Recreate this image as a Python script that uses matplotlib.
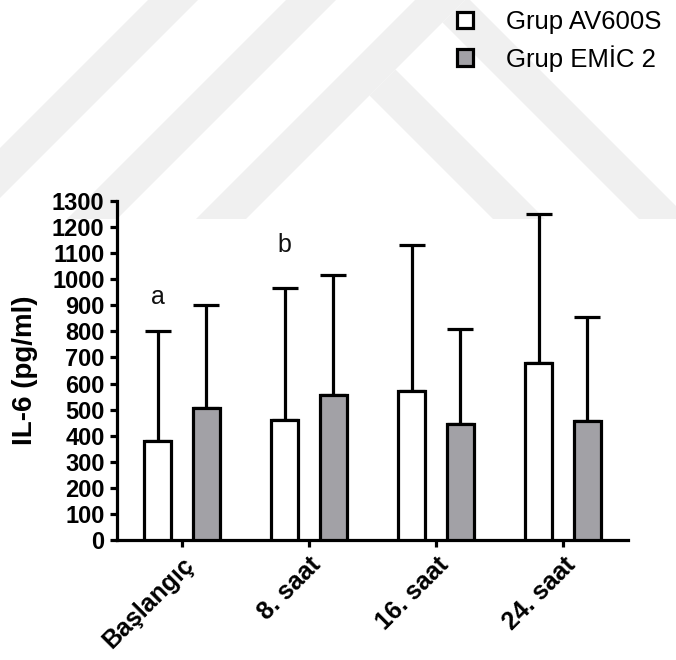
import matplotlib
matplotlib.use("Agg")
import matplotlib.pyplot as plt
import numpy as np
from matplotlib.patches import Patch, Polygon

plt.rcParams['font.family'] = ['Liberation Sans', 'DejaVu Sans']

# ---- data -------------------------------------------------------------
timepoints = ["Başlangıç", "8. saat", "16. saat", "24. saat"]
av600s_mean = [380, 460, 570, 680]
av600s_sd = [420, 505, 562, 570]
emic2_mean = [505, 555, 445, 455]
emic2_sd = [395, 462, 365, 402]
group_names = ["Grup AV600S", "Grup EMİC 2"]
sig_letters = ["a", "b"]
sig_heights = [930, 1130]
yticks = list(range(0, 1301, 100))

# ---- styling ----------------------------------------------------------
W, H = 676, 660
fig = plt.figure(figsize=(W / 100, H / 100), dpi=100)
fig.patch.set_facecolor("white")

# faint diagonal background pattern (figure pixel coordinates, y downwards)
def px(pts):
    return [(x / W, 1 - y / H) for x, y in pts]

band_col = "#f0f0f0"
cut = 219
bands = []
for c1, c2 in [(148, 198), (286, 336), (415, 465)]:
    bands.append([(c1, 0), (c2, 0), (c2 - cut, cut), (c1 - cut, cut)])
edge = 465
for d1, d2 in [(274, 326), (420, 470)]:
    bands.append([((edge + d1) / 2, (edge - d1) / 2), ((edge + d2) / 2, (edge - d2) / 2),
                  (d2 + cut, cut), (d1 + cut, cut)])
for pts in bands:
    fig.patches.append(Polygon(px(pts), closed=True, transform=fig.transFigure,
                               facecolor=band_col, edgecolor="none", zorder=-10))

ax = fig.add_axes([117 / W, 1 - 540 / H, (628 - 117) / W, (540 - 201) / H])
ax.set_zorder(5)
ax.patch.set_alpha(0)

lw = 2.3
x = np.arange(len(timepoints))
off = 0.19
bw = 0.213

bar_kw = dict(width=bw, edgecolor="black", linewidth=lw, zorder=3)
err_kw = dict(fmt="none", ecolor="black", elinewidth=lw, capsize=9.5, capthick=lw, zorder=2)

ax.bar(x - off, av600s_mean, color="white", label=group_names[0], **bar_kw)
ax.bar(x + off, emic2_mean, color="#a2a1a6", label=group_names[1], **bar_kw)
ax.errorbar(x - off, av600s_mean, yerr=[np.zeros(len(x)), av600s_sd], **err_kw)
ax.errorbar(x + off, emic2_mean, yerr=[np.zeros(len(x)), emic2_sd], **err_kw)

for i, (lab, h) in enumerate(zip(sig_letters, sig_heights)):
    ax.text(x[i] - off, h, lab, ha="center", va="center", fontsize=18, color="#111111")

ax.set_xlim(-0.512, 3.512)
ax.set_ylim(0, 1300)
ax.set_yticks(yticks)
ax.set_xticks(x)
ax.set_xticklabels(timepoints, rotation=45, ha="right", va="top",
                   rotation_mode="anchor", fontsize=18, fontweight="bold")
ax.tick_params(axis="y", labelsize=17, width=lw, length=5, pad=4)
ax.tick_params(axis="x", width=lw, length=5, pad=4)
for lbl in ax.get_yticklabels():
    lbl.set_fontweight("bold")

for s in ["top", "right"]:
    ax.spines[s].set_visible(False)
for s in ["left", "bottom"]:
    ax.spines[s].set_linewidth(lw)

ax.set_ylabel("IL-6 (pg/ml)", fontsize=20, fontweight="bold", labelpad=10)

handles = [Patch(facecolor="white", edgecolor="black", linewidth=lw),
           Patch(facecolor="#a2a1a6", edgecolor="black", linewidth=lw)]
fig.legend(handles, group_names, loc="upper left",
           bbox_to_anchor=(452 / W, 1 - 5 / H), frameon=False, fontsize=18.5,
           handlelength=0.62, handleheight=0.62, handletextpad=1.3,
           labelspacing=0.42, borderaxespad=0, borderpad=0.2)

fig.savefig("out.png", dpi=100)
